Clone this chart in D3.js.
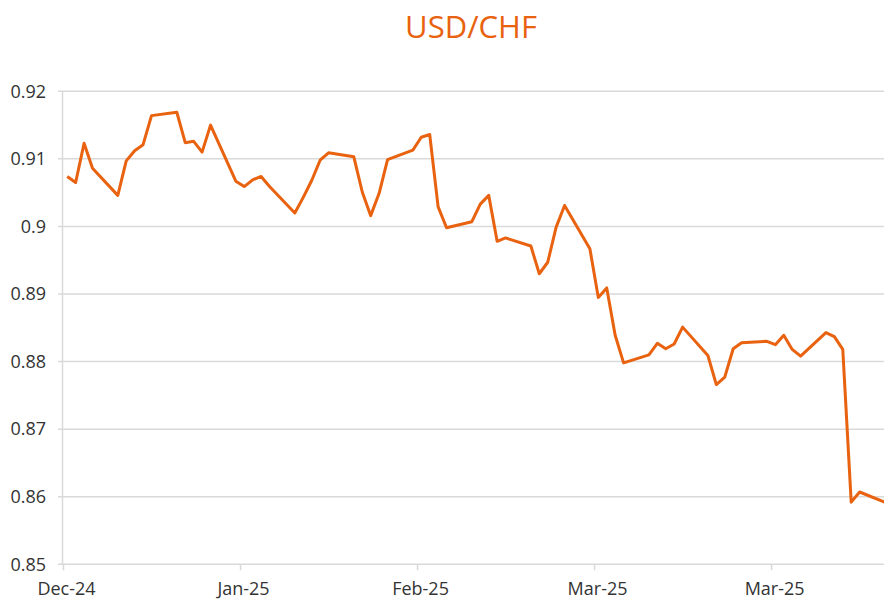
<!DOCTYPE html>
<html lang="en">
<head>
<meta charset="UTF-8"/>
<title>USD/CHF</title>
<script src="https://d3js.org/d3.v7.min.js"></script>
<style>
	body { margin: 0; background: #fff; }
	text { font-family: "Open Sans", sans-serif; }
</style>
</head>
<body>
<script>
	var w = 884;
	var h = 601;

	// daily closes
	var dates = [
		"2024-12-31","2025-01-01","2025-01-02","2025-01-03",
		"2025-01-06","2025-01-07","2025-01-08","2025-01-09","2025-01-10",
		"2025-01-13","2025-01-14","2025-01-15","2025-01-16","2025-01-17",
		"2025-01-20","2025-01-21","2025-01-22","2025-01-23","2025-01-24",
		"2025-01-27","2025-01-28","2025-01-29","2025-01-30","2025-01-31",
		"2025-02-03","2025-02-04","2025-02-05","2025-02-06","2025-02-07",
		"2025-02-10","2025-02-11","2025-02-12","2025-02-13","2025-02-14",
		"2025-02-17","2025-02-18","2025-02-19","2025-02-20","2025-02-21",
		"2025-02-24","2025-02-25","2025-02-26","2025-02-27","2025-02-28",
		"2025-03-03","2025-03-04","2025-03-05","2025-03-06","2025-03-07",
		"2025-03-10","2025-03-11","2025-03-12","2025-03-13","2025-03-14",
		"2025-03-17","2025-03-18","2025-03-19","2025-03-20","2025-03-21",
		"2025-03-24","2025-03-25","2025-03-26","2025-03-27","2025-03-28",
		"2025-03-31","2025-04-01","2025-04-02","2025-04-03","2025-04-04",
		"2025-04-07"
	];
	var rates = [
		0.9074, 0.9065, 0.9123, 0.9086,
		0.9046, 0.9097, 0.9112, 0.9121, 0.9164,
		0.9169, 0.9124, 0.9126, 0.9110, 0.9150,
		0.9067, 0.9059, 0.9069, 0.9074, 0.9059,
		0.9020, 0.9043, 0.9068, 0.9098, 0.9109,
		0.9103, 0.9051, 0.9016, 0.9049, 0.9099,
		0.9113, 0.9132, 0.9136, 0.9029, 0.8998,
		0.9007, 0.9033, 0.9046, 0.8978, 0.8983,
		0.8971, 0.8930, 0.8947, 0.8999, 0.9031,
		0.8967, 0.8895, 0.8909, 0.8839, 0.8798,
		0.8810, 0.8827, 0.8819, 0.8826, 0.8851,
		0.8809, 0.8766, 0.8777, 0.8819, 0.8828,
		0.8830, 0.8825, 0.8839, 0.8818, 0.8808,
		0.8843, 0.8837, 0.8818, 0.8592, 0.8607,
		0.8592
	];
	// axis ticks (the chart puts one every 21 days)
	var tickDates = ["2024-12-31","2025-01-21","2025-02-11","2025-03-04","2025-03-25"];
	var yTicks = [0.85, 0.86, 0.87, 0.88, 0.89, 0.90, 0.91, 0.92];

	var parse = d3.utcParse("%Y-%m-%d");
	var data = dates.map(function(d, i){ return {date: parse(d), value: rates[i]}; });

	var padLeft = 63, padTop = 91.3, padBottom = 564.3;
	var dayPx = 8.43;

	var xScale = d3.scaleUtc()
		.domain([parse("2024-12-31"), parse("2025-04-08")])
		.range([padLeft, padLeft + 98 * dayPx]);

	var yScale = d3.scaleLinear()
		.domain([0.85, 0.92])
		.range([padBottom, padTop]);

	var svg = d3.select("body")
		.append("svg")
		.attr("width", w)
		.attr("height", h);

	// title
	svg.append("text")
		.attr("x", 471)
		.attr("y", 38)
		.attr("text-anchor", "middle")
		.attr("fill", "#e8620f")
		.style("font-size", "31px")
		.text("USD/CHF");

	// gridlines
	svg.selectAll("line.grid")
		.data(yTicks)
		.enter()
		.append("line")
		.attr("class", "grid")
		.attr("x1", padLeft - 5)
		.attr("x2", w)
		.attr("y1", function(d){ return yScale(d); })
		.attr("y2", function(d){ return yScale(d); })
		.attr("stroke", "#d9d9d9")
		.attr("stroke-width", 1.5);

	// y axis line
	svg.append("line")
		.attr("x1", padLeft - 0.5).attr("x2", padLeft - 0.5)
		.attr("y1", padTop).attr("y2", padBottom)
		.attr("stroke", "#d9d9d9")
		.attr("stroke-width", 1.5);

	var yAxis = d3.axisLeft(yScale)
		.tickValues(yTicks)
		.tickSize(0)
		.tickPadding(17)
		.tickFormat(function(d){ return String(+d.toFixed(2)); });

	var gy = svg.append("g")
		.attr("transform", "translate(" + padLeft + ",0)")
		.call(yAxis);
	gy.select(".domain").remove();
	gy.selectAll("text")
		.attr("fill", "#333")
		.style("font-size", "18px")
		.style("font-family", "'Open Sans', sans-serif");

	var xAxis = d3.axisBottom(xScale)
		.tickValues(tickDates.map(parse))
		.tickSize(6)
		.tickPadding(12)
		.tickFormat(d3.utcFormat("%b-%y"));

	var gx = svg.append("g")
		.attr("transform", "translate(0," + padBottom + ")")
		.call(xAxis);
	gx.select(".domain").remove();
	gx.selectAll("line")
		.attr("stroke", "#d9d9d9")
		.attr("stroke-width", 1.5);
	gx.selectAll("text")
		.attr("fill", "#333")
		.attr("dx", 3)
		.style("font-size", "18px")
		.style("font-family", "'Open Sans', sans-serif");

	// the line, each close sits in the middle of its day
	var line = d3.line()
		.x(function(d){ return xScale(d3.utcHour.offset(d.date, 12)); })
		.y(function(d){ return yScale(d.value); });

	svg.append("path")
		.datum(data)
		.attr("d", line)
		.attr("fill", "none")
		.attr("stroke", "#e8620f")
		.attr("stroke-width", 3)
		.attr("stroke-linejoin", "round");
</script>
</body>
</html>
